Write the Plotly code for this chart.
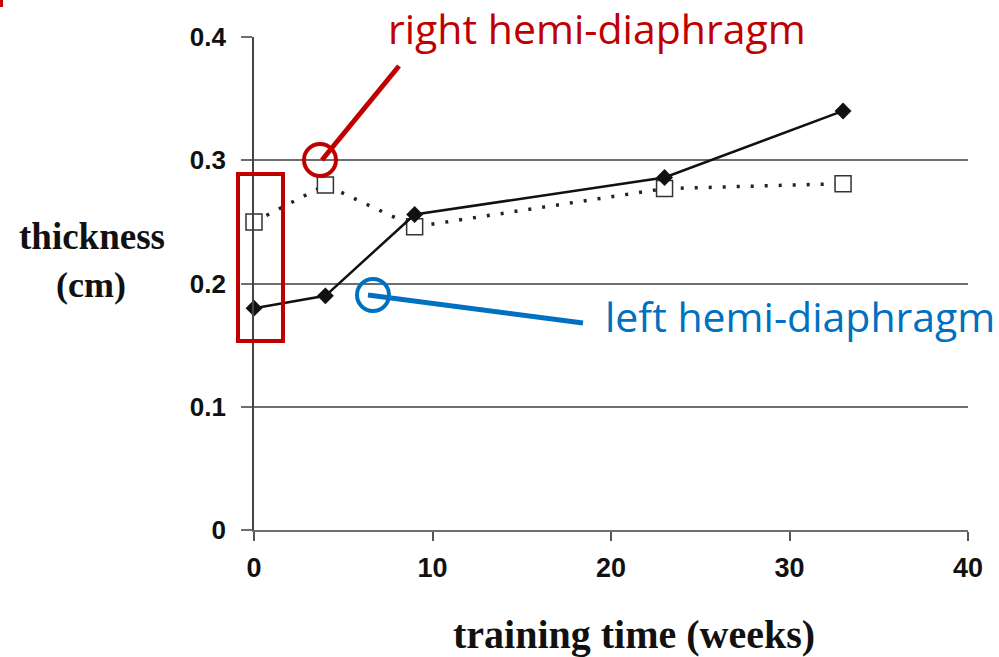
import plotly.graph_objects as go

# ---------------- data ----------------
weeks = [0, 4, 9, 23, 33]
left_hemi = [0.18, 0.19, 0.256, 0.286, 0.34]
right_hemi = [0.25, 0.28, 0.246, 0.277, 0.281]
x_ticks = [0, 10, 20, 30, 40]
y_ticks = [0, 0.1, 0.2, 0.3, 0.4]
y_tick_labels = ["0", "0.1", "0.2", "0.3", "0.4"]

W, H = 999, 657
L, R, T, B = 254, 968, 37, 530  # plot area in pixels


def px(x):
    return (x - L) / (R - L)


def py(y):
    return (B - y) / (B - T)


RED = "#C00000"
BLUE = "#0070C0"
GRID = "#6e6e6e"

fig = go.Figure()

fig.add_trace(go.Scatter(
    x=weeks, y=right_hemi, mode="lines+markers",
    line=dict(color="#222222", width=3.5, dash="3px,11px"),
    marker=dict(symbol="square", size=16, color="white",
                line=dict(color="#333333", width=1.5)),
    cliponaxis=False, showlegend=False))

fig.add_trace(go.Scatter(
    x=weeks, y=left_hemi, mode="lines+markers",
    line=dict(color="#111111", width=2.5),
    marker=dict(symbol="diamond", size=13, color="#111111"),
    cliponaxis=False, showlegend=False))

shapes = []
# white gap in the top gridline behind the label
shapes.append(dict(type="rect", xref="paper", yref="paper",
                   x0=px(365), x1=px(835), y0=py(42), y1=py(32),
                   fillcolor="white", line=dict(width=0), layer="above"))
# red highlight rectangle
shapes.append(dict(type="rect", xref="paper", yref="paper",
                   x0=px(238), x1=px(283), y0=py(341), y1=py(174),
                   line=dict(color=RED, width=4), layer="above"))
# red circle + leader line
shapes.append(dict(type="circle", xref="paper", yref="paper",
                   x0=px(320 - 16), x1=px(320 + 16), y0=py(160 + 16), y1=py(160 - 16),
                   line=dict(color=RED, width=4), layer="above"))
shapes.append(dict(type="line", xref="paper", yref="paper",
                   x0=px(322), y0=py(160), x1=px(399), y1=py(66),
                   line=dict(color=RED, width=5), layer="above"))
# blue circle + leader line
shapes.append(dict(type="circle", xref="paper", yref="paper",
                   x0=px(373 - 16), x1=px(373 + 16), y0=py(295 + 16), y1=py(295 - 16),
                   line=dict(color=BLUE, width=4), layer="above"))
shapes.append(dict(type="line", xref="paper", yref="paper",
                   x0=px(368), y0=py(295), x1=px(583), y1=py(323),
                   line=dict(color=BLUE, width=5), layer="above"))
# small red mark at the top-left corner
shapes.append(dict(type="rect", xref="paper", yref="paper",
                   x0=px(0), x1=px(3), y0=py(7), y1=py(0),
                   fillcolor=RED, line=dict(width=0), layer="above"))

annotations = [
    dict(text="right hemi-diaphragm", xref="paper", yref="paper",
         x=px(597), y=py(28), xanchor="center", yanchor="middle",
         showarrow=False, font=dict(family="Open Sans", size=41, color=RED)),
    dict(text="left hemi-diaphragm", xref="paper", yref="paper",
         x=px(800), y=py(316), xanchor="center", yanchor="middle",
         showarrow=False, font=dict(family="Open Sans", size=41, color=BLUE)),
    dict(text="<b>thickness</b>", xref="paper", yref="paper",
         x=px(92), y=py(236), xanchor="center", yanchor="middle",
         showarrow=False, font=dict(family="Liberation Serif", size=37, color="#111111")),
    dict(text="<b>(cm)</b>", xref="paper", yref="paper",
         x=px(91), y=py(285), xanchor="center", yanchor="middle",
         showarrow=False, font=dict(family="Liberation Serif", size=36, color="#111111")),
    dict(text="<b>training time (weeks)</b>", xref="paper", yref="paper",
         x=px(634), y=py(634), xanchor="center", yanchor="middle",
         showarrow=False, font=dict(family="Liberation Serif", size=40, color="#111111")),
]

fig.update_layout(
    width=W, height=H,
    margin=dict(l=L, r=W - R, t=T, b=H - B, pad=0),
    plot_bgcolor="white", paper_bgcolor="white",
    shapes=shapes, annotations=annotations,
    xaxis=dict(range=[0, 40], tickmode="array", tickvals=x_ticks,
               ticktext=[f"<b>{v}</b>" for v in x_ticks],
               showgrid=False, zeroline=False,
               showline=True, linecolor=GRID, linewidth=2,
               ticks="outside", ticklen=9, tickcolor="#555555", tickwidth=1.5,
               ticklabelstandoff=4,
               tickfont=dict(family="Liberation Sans", size=27, color="#111111")),
    yaxis=dict(range=[0, 0.4], tickmode="array", tickvals=y_ticks,
               ticktext=[f"<b>{t}</b>" for t in y_tick_labels],
               showgrid=True, gridcolor=GRID, gridwidth=1.6, zeroline=False,
               showline=True, linecolor="#444444", linewidth=1.6,
               ticks="outside", ticklen=11, tickcolor=GRID, tickwidth=1.6,
               ticklabelstandoff=10,
               tickfont=dict(family="Liberation Sans", size=26, color="#111111")),
)

fig.write_html("out.html")
